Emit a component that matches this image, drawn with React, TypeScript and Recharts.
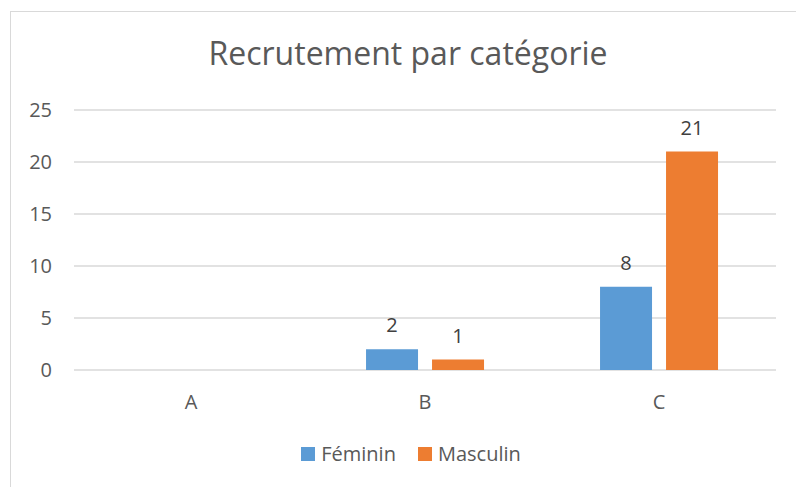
import { BarChart, Bar, XAxis, YAxis, CartesianGrid, Legend, LabelList } from "recharts";

const categories = ["A", "B", "C"];
const feminin = [null, 2, 8];
const masculin = [null, 1, 21];
const yTicks = [0, 5, 10, 15, 20, 25];

const data = categories.map((name, i) => ({
  name,
  feminin: feminin[i],
  masculin: masculin[i],
}));

const FONT = "'Open Sans', sans-serif";
const GRAY = "#595959";

const legendItems = [
  { label: "Féminin", color: "#5B9BD5" },
  { label: "Masculin", color: "#ED7D31" },
];

function LegendBox() {
  return (
    <div
      style={{
        height: 28,
        display: "flex",
        justifyContent: "center",
        alignItems: "center",
        fontFamily: FONT,
        fontSize: 20,
        color: GRAY,
        lineHeight: "28px",
      }}
    >
      {legendItems.map((it, i) => (
        <div key={it.label} style={{ display: "flex", alignItems: "center", marginLeft: i ? 22 : 0 }}>
          <span style={{ width: 14, height: 14, background: it.color, marginRight: 6, display: "inline-block" }} />
          <span>{it.label}</span>
        </div>
      ))}
    </div>
  );
}

const renderLabel = (props: any) => {
  const { x, y, width, value } = props;
  if (value == null) return null;
  return (
    <text x={x + width / 2} y={y - 17} textAnchor="middle" fill="#404040" fontSize={20} fontFamily={FONT}>
      {value}
    </text>
  );
};

export default function App() {
  return (
    <div
      style={{
        position: "fixed",
        top: 0,
        left: 0,
        width: 796,
        height: 487,
        overflow: "hidden",
        background: "#fff",
      }}
    >
      <div
        style={{
          position: "absolute",
          left: 10,
          top: 11,
          width: 820,
          height: 520,
          border: "1px solid #d9d9d9",
        }}
      />
      <div
        style={{
          position: "absolute",
          left: 0,
          top: 31,
          width: 816,
          textAlign: "center",
          fontFamily: FONT,
          fontSize: 32,
          color: GRAY,
          lineHeight: "normal",
        }}
      >
        Recrutement par catégorie
      </div>
      <div style={{ position: "absolute", left: 0, top: 0 }}>
        <BarChart
          width={796}
          height={487}
          data={data}
          margin={{ top: 110, right: 20, bottom: 29, left: 0 }}
          barCategoryGap="24.8%"
          barGap={14}
        >
          <CartesianGrid vertical={false} stroke="#d9d9d9" strokeWidth={1.5} />
          <XAxis
            dataKey="name"
            axisLine={false}
            tickLine={false}
            tickSize={0}
            tickMargin={25}
            height={60}
            tick={{ fill: GRAY, fontSize: 20, fontFamily: FONT }}
          />
          <YAxis
            domain={[0, 25]}
            ticks={yTicks}
            axisLine={false}
            tickLine={false}
            tickSize={0}
            tickMargin={22}
            width={74}
            tick={{ fill: GRAY, fontSize: 20, fontFamily: FONT }}
          />
          <Legend
            verticalAlign="bottom"
            content={() => <LegendBox />}
            wrapperStyle={{ top: 440, left: 0, width: 822, height: 28 }}
          />
          <Bar dataKey="feminin" name="Féminin" fill="#5B9BD5" isAnimationActive={false}>
            <LabelList dataKey="feminin" content={renderLabel} />
          </Bar>
          <Bar dataKey="masculin" name="Masculin" fill="#ED7D31" isAnimationActive={false}>
            <LabelList dataKey="masculin" content={renderLabel} />
          </Bar>
        </BarChart>
      </div>
    </div>
  );
}
